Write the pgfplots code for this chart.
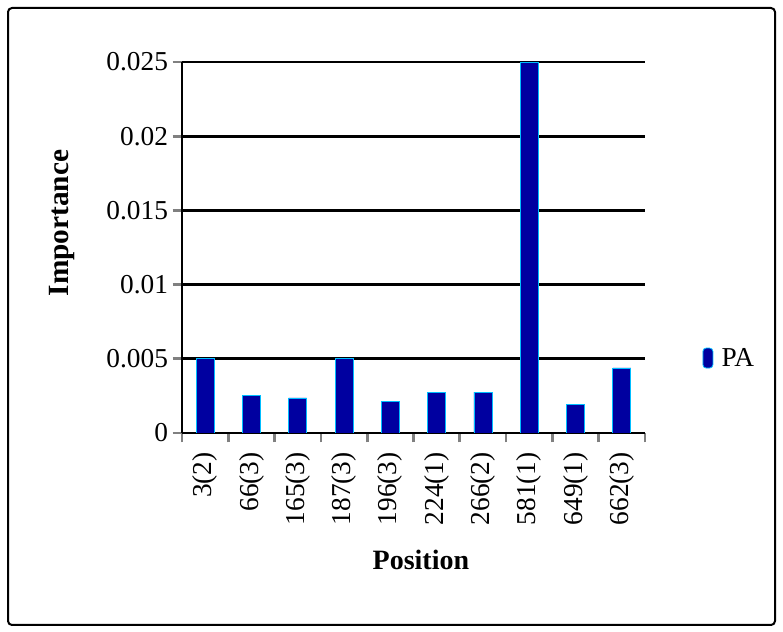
\documentclass[border=0pt]{standalone}
\usepackage{pgfplots}
\pgfplotsset{compat=1.18}
\usepackage{fontspec}
\setmainfont{Liberation Serif}

\definecolor{barblue}{RGB}{0,0,160}
\definecolor{baredge}{RGB}{0,190,255}

\begin{document}
\begin{tikzpicture}[x=1pt,y=1pt]
\path[use as bounding box] (0,0) rectangle (587.25,474);
\draw[line width=1.5pt, rounded corners=3pt] (6,5.25) rectangle (581.25,468);
\begin{axis}[
    at={(136.5pt,149.25pt)},
    anchor=south west,
    scale only axis,
    width=347.25pt,
    height=278.25pt,
    ybar,
    bar width=13.5pt,
    xmin=-0.5, xmax=9.5,
    ymin=0, ymax=0.025,
    axis lines=left,
    axis line style={-, line width=2.2pt},
    xtick={0,...,9},
    xticklabels={3(2),66(3),165(3),187(3),196(3),224(1),266(2),581(1),649(1),662(3)},
    major x tick style={draw=none},
    minor xtick={-0.5,0.5,...,9.5},
    minor x tick style={line width=2pt},
    minor tick length=7pt,
    ytick={0,0.005,0.01,0.015,0.02,0.025},
    major y tick style={line width=2pt},
    major tick length=7pt,
    tick align=outside,
    scaled y ticks=false,
    yticklabel style={/pgf/number format/fixed, /pgf/number format/precision=3},
    /pgf/number format/assume math mode=true,
    ymajorgrids,
    grid style={line width=2.2pt, black},
    x tick label style={rotate=90, anchor=east, xshift=-4pt},
    tick label style={font=\fontsize{20.5}{24}\selectfont},
    xlabel={Position},
    ylabel={Importance},
    xlabel style={at={(axis description cs:0.516,-0.342)}, anchor=center,
        font=\fontsize{21}{24}\selectfont\bfseries},
    ylabel style={at={(axis description cs:-0.259,0.566)}, rotate=0, anchor=center,
        font=\fontsize{22}{24}\selectfont\bfseries},
    legend style={at={(axis description cs:1.115,0.202)}, anchor=west, draw=none, fill=none,
        font=\fontsize{20.5}{24}\selectfont},
    legend image code/.code={
        \draw[fill=barblue, draw=baredge, line width=0.6pt, rounded corners=2.5pt]
            (0pt,-7.5pt) rectangle (7.5pt,7.5pt);
        \path[draw=none, fill=none] (0pt,0pt) -- (12pt,0pt);
    },
]
\addplot[fill=barblue, draw=baredge, line width=0.6pt] coordinates {
    (0,0.0050)
    (1,0.00256)
    (2,0.00236)
    (3,0.0050)
    (4,0.0021)
    (5,0.00276)
    (6,0.00276)
    (7,0.0250)
    (8,0.00195)
    (9,0.00438)
};
\addlegendentry{PA}
\end{axis}
\end{tikzpicture}
\end{document}
